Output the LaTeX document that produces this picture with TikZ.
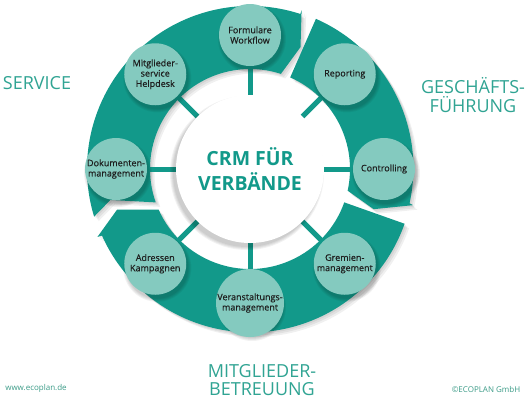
\documentclass[tikz,border=0pt]{standalone}
\usepackage{fontspec}
\setmainfont{Open Sans}
\pgfdeclarelayer{back}
\pgfdeclarelayer{bg}
\pgfsetlayers{back,bg,main}
\definecolor{ringc}{HTML}{12998A}
\definecolor{discc}{HTML}{84CABF}
\definecolor{lblc}{HTML}{30A493}
\definecolor{footc}{HTML}{3C9C88}
\definecolor{inkc}{HTML}{1E1E1E}
\newcommand\softshade[3]{\foreach \k in {0,1,2,3}{\fill[black,opacity=0.05] ([shift={#3}]#1) circle[radius={#2+3-\k}];}}
\def\segA{(197:163) -- (192.5:143) -- (199.5:100) arc[start angle=199.5, end angle=72, radius=100] -- (67.5:132) -- (72:167) -- (72:163) arc[start angle=72, end angle=197, radius=163] -- cycle}
\def\segB{(66.3:100) -- (66.3:164) arc[start angle=66.3, end angle=-12.5, radius=163] -- (-12.5:167) -- (-18:130) -- (-12.5:100) arc[start angle=-12.5, end angle=66.3, radius=100] -- cycle}
\def\segC{(-19.5:100) -- (-19.5:164) arc[start angle=-19.5, end angle=-156, radius=163] -- (-156:167) -- (-163:139) -- (-156:100) arc[start angle=-156, end angle=-19.5, radius=100] -- cycle}
\begin{document}
\begin{tikzpicture}[x=1pt,y=-1pt,
  disc/.style={circle,fill=discc,minimum size=62pt,inner sep=0pt,align=center,text=inkc,font=\fontsize{9}{10.3}\selectfont\addfontfeature{FakeBold=0.5}},
  core/.style={circle,fill=white,minimum size=148pt,inner sep=0pt,align=center,text=ringc,font=\fontsize{19.5}{25.5}\selectfont\bfseries},
  spoke/.style={draw=ringc,line width=5pt},
  area/.style={text=lblc,align=center,font=\fontsize{18}{18.5}\selectfont},
  foot/.style={text=footc,font=\fontsize{8}{9}\selectfont}]
\useasboundingbox (0,0) rectangle (527,400);
\begin{pgfonlayer}{back}
\fill[white] (0,0) rectangle (527,400);
\end{pgfonlayer}
\begin{scope}[shift={(250,169)},yscale=-1]
  \coordinate (c0) at (0,0);
  \foreach \i/\a in {1/90,2/45,3/0,4/-45,5/-90,6/-135,7/180,8/135} {\coordinate (p\i) at (\a:134);}
\end{scope}
% shadows and nodes
\softshade{c0}{74}{(-3,4)}
\node[core] (core) at (c0) {CRM FÜR\\VERBÄNDE};
\foreach \i in {1,...,8} {\softshade{p\i}{31}{(2,4)}}
\node[disc] (n1) at (p1) {Formulare\\Workflow};
\node[disc] (n2) at (p2) {Reporting};
\node[disc] (n3) at (p3) {Controlling};
\node[disc] (n4) at (p4) {Gremien-\\management};
\node[disc] (n5) at (p5) {Veranstaltungs-\\management};
\node[disc] (n6) at (p6) {Adressen\\Kampagnen};
\node[disc] (n7) at (p7) {Dokumenten-\\management};
\node[disc] (n8) at (p8) {Mitglieder-\\service\\Helpdesk};
% ring and spokes underneath
\begin{pgfonlayer}{bg}
\begin{scope}[shift={(250,169)},yscale=-1]
  \foreach \s in {1.5,3,4.5} {
    \fill[black,opacity=0.06,shift={(\s,-\s)}] \segA;
    \fill[black,opacity=0.06,shift={(\s,-\s)}] \segB;
    \fill[black,opacity=0.06,shift={(\s,-\s)}] \segC;
  }
  \fill[ringc] \segA;
  \fill[ringc] \segB;
  \fill[ringc] \segC;
\end{scope}
\foreach \i in {1,...,8} {\draw[spoke] (core) -- (n\i);}
\end{pgfonlayer}
% labels
\node[area] (lS) at (37,83) {SERVICE};
\node[area] (lG) at (473,95) {GESCHÄFTS-\\FÜHRUNG};
\node[area] (lM) at (262,380) {MITGLIEDER-\\BETREUUNG};
\node[foot] (f1) at (36,388) {www.ecoplan.de};
\node[foot] (f2) at (486,389) {©ECOPLAN GmbH};
\end{tikzpicture}
\end{document}
